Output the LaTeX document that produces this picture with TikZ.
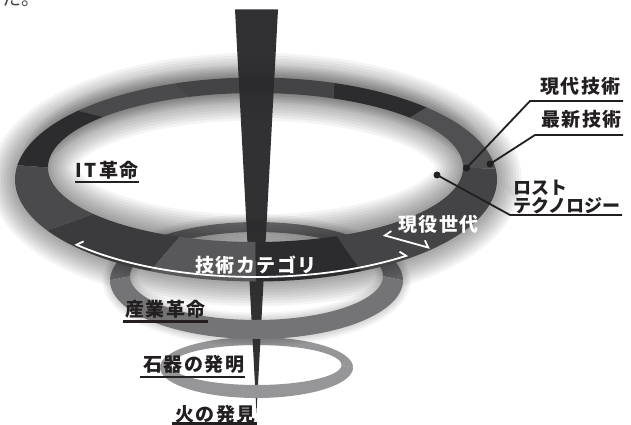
\documentclass[tikz,border=0pt]{standalone}
\usepackage{fontspec}
\newfontfamily\jp{Noto Sans CJK JP}
\newfontfamily\jpls{Noto Sans CJK JP}[LetterSpace=8]
\usetikzlibrary{arrows.meta}
\definecolor{spk}{HTML}{2B2A2C}
\definecolor{sA}{HTML}{2C2B2D}
\definecolor{sB}{HTML}{444446}
\definecolor{sC}{HTML}{505052}
\definecolor{sD}{HTML}{4A4A4C}
\definecolor{sE}{HTML}{3B3B3D}
\definecolor{sF}{HTML}{58585A}
\definecolor{rtwo}{HTML}{747476}
\definecolor{rthree}{HTML}{969698}
\definecolor{ink}{HTML}{231F20}
\newcommand\setouter[4]{\def\ocx{#1}\def\ocy{#2}\def\orx{#3}\def\ory{#4}}
\newcommand\setinner[4]{\def\icx{#1}\def\icy{#2}\def\irx{#3}\def\iry{#4}}
\newcommand\rpart[5]{\fill[#1] plot[domain=#2:#3,samples=60] ({\ocx+\orx*cos(\x)},{\ocy-\ory*sin(\x)}) -- plot[domain=#4:#5,samples=60] ({\icx+\irx*cos(#4+#5-\x)},{\icy-\iry*sin(#4+#5-\x)}) -- cycle;}
\newcommand\glow[7]{\foreach \k in {1,...,#5}{\pgfmathsetmacro\lw{\k*#6}\draw[black,opacity=#7,line width=\lw pt] plot[domain=0:360,samples=120] ({#1+#3*cos(\x)},{#2-#4*sin(\x)}) -- cycle;}}
\begin{document}
\begin{tikzpicture}[x=1pt,y=-1pt,
  lbl/.style={font=\jpls\bfseries\fontsize{19}{19}\selectfont, text=ink, inner sep=0pt, anchor=base west},
  lblw/.style={lbl, text=white},
  lblk/.style={font=\jp\bfseries\fontsize{18}{18}\selectfont, text=ink, inner sep=0pt, anchor=base west},
  uline/.style={ink, line width=2.2pt},
  leader/.style={ink, line width=1.8pt},
  dotm/.style={circle, fill=ink, inner sep=0pt, minimum size=7pt},
  warrow/.style={white, line width=1.8pt, {Straight Barb[right,length=5pt,width=12pt]}-{Straight Barb[left,length=5pt,width=12pt]}}]
\useasboundingbox (0,0) rectangle (631,425);
\clip (0,0) rectangle (631,425);
\fill[white] (0,0) rectangle (631,425);
\node[font=\jp\fontsize{19}{19}\selectfont, text=ink!85, inner sep=0pt, anchor=base west] (frag) at (2,6) {た。};
% ring 3 back
\setouter{256.5}{367.5}{96.5}{30.5}\setinner{256.5}{365}{85}{20}
\rpart{rthree}{0}{180}{0}{180}
% ring 2 glow and back
\glow{256.5}{280.5}{146.5}{58.5}{5}{3}{0.03}
\glow{256.5}{276}{126.5}{44}{5}{3}{0.03}
\setouter{256.5}{280.5}{146.5}{58.5}\setinner{256.5}{276}{126.5}{44}
\rpart{rtwo}{0}{180}{0}{180}
% big ring glow
\glow{256}{179.5}{241}{102}{9}{5.5}{0.045}
\glow{255.5}{167.5}{207.5}{74.5}{10}{5.5}{0.045}
% big ring back segments
\setouter{256}{179.5}{241}{102}\setinner{255.5}{167.5}{207.5}{74.5}
\rpart{sB}{-64}{6}{-67}{0}
\rpart{sC}{6}{45}{0}{42}
\rpart{sA}{45}{71}{42}{68}
\rpart{sB}{71}{110}{68}{109}
\rpart{sD}{110}{137.6}{109}{137.3}
\rpart{sA}{137.6}{172}{137.3}{180}
\rpart{sD}{172}{210}{180}{218.5}
\rpart{sE}{210}{244}{218.5}{248.5}
% spike
\fill[spk,opacity=0.97] (235,9.5) -- (278,9.5) -- (256.5,413) -- cycle;
% ring 3 front, ring 2 front
\setouter{256.5}{367.5}{96.5}{30.5}\setinner{256.5}{365}{85}{20}
\rpart{rthree}{180}{360}{180}{360}
\setouter{256.5}{280.5}{146.5}{58.5}\setinner{256.5}{276}{126.5}{44}
\rpart{rtwo}{180}{360}{180}{360}
% big ring front
\setouter{256}{179.5}{241}{102}\setinner{255.5}{167.5}{207.5}{74.5}
\rpart{sF}{244}{270}{248.5}{270}
\rpart{sA}{270}{296}{270}{293}
% white arrows
\draw[warrow] plot[domain=-138.2:-51.3,samples=80] ({256+243*cos(\x)},{178-99*sin(\x)});
\coordinate (ga) at (383,235);
\coordinate (gb) at (430,248);
\draw[warrow] (ga) -- (gb);
\node[lblw] (gijutsu) at (195,272) {技術カテゴリ};
\node[lblw] (geneki) at (398,231) {現役世代};
% left labels
\node[lbl] (it) at (75,177) {I\kern3pt T\kern2pt 革命};
\draw[uline] ([shift={(0,5)}]it.base west) -- ([shift={(0,5)}]it.base east);
\node[lbl] (sangyo) at (125,316) {産業革命};
\draw[uline] ([shift={(-2,5.5)}]sangyo.base west) -- ([shift={(2,5.5)}]sangyo.base east);
\node[lbl] (sekki) at (143,371) {石器の発明};
\draw[uline] ([shift={(-3,6)}]sekki.base west) -- ([shift={(1,6)}]sekki.base east);
\node[lbl] (hi) at (175,421) {火の発見};
\draw[uline] ([shift={(-3,2.5)}]hi.base west) -- ([shift={(1,2.5)}]hi.base east);
% right labels
\node[lbl] (gendai) at (540,94) {現代技術};
\node[lbl] (saishin) at (541,127) {最新技術};
\node[lblk] (lost1) at (513,194) {ロスト};
\node[lblk] (lost2) at (513,212) {テクノロジー};
\node[dotm] (d1) at (466.5,168) {};
\node[dotm] (d2) at (490,164) {};
\node[dotm] (d3) at (437,175) {};
\coordinate (k1) at (530,101);
\coordinate (e1) at (623,101);
\coordinate (k2) at (535,135);
\coordinate (e2) at (623,135);
\coordinate (k3) at (510,215);
\coordinate (e3) at (622,215);
\draw[leader] (d1.center) -- (k1) -- (e1);
\draw[leader] (d2.center) -- (k2) -- (e2);
\draw[leader] (d3.center) -- (k3) -- (e3);
\end{tikzpicture}
\end{document}
